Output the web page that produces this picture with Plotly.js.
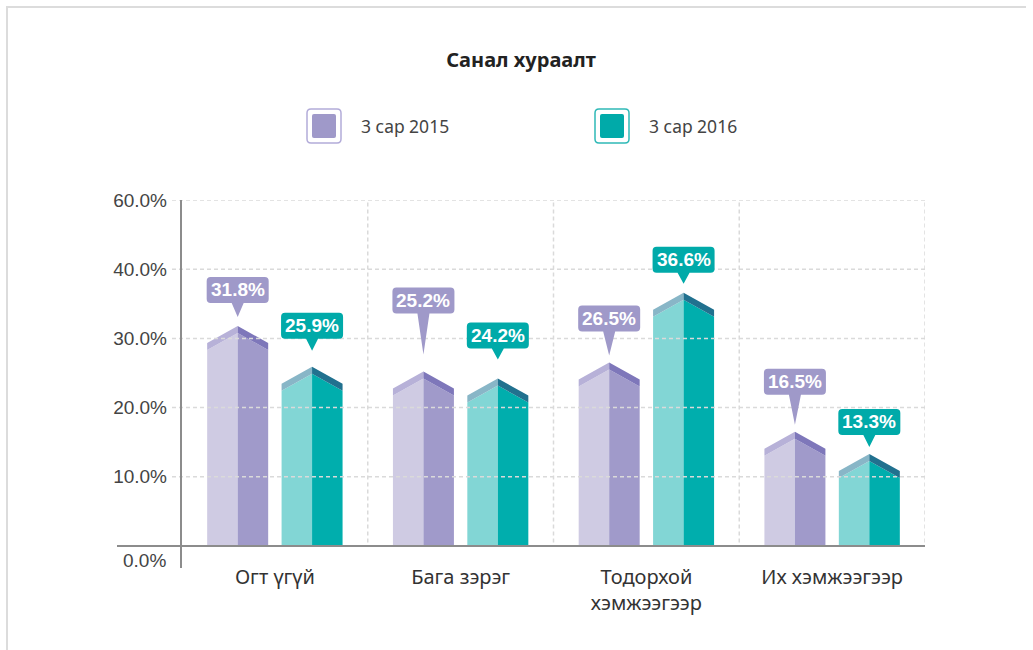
<!DOCTYPE html>
<html><head><meta charset="utf-8">
<script src="https://cdn.plot.ly/plotly-3.0.1.min.js"></script>
<style>html,body{margin:0;padding:0;background:#fff;} #chart{width:1033px;height:650px;}</style>
</head><body><div id="chart"></div>
<script>
// ---- data ----
const categories = ['Огт үгүй', 'Бага зэрэг', 'Тодорхой<br>хэмжээгээр', 'Их хэмжээгээр'];
const seriesNames = ['3 сар 2015', '3 сар 2016'];
const values2015 = [31.8, 25.2, 26.5, 16.5];
const values2016 = [25.9, 24.2, 36.6, 13.3];
const yTickVals = [10, 20, 30, 40, 50];
const yTickText = ['10.0%', '20.0%', '30.0%', '40.0%', '60.0%'];
const zeroTickText = '0.0%';
const chartTitle = 'Санал хураалт';

// ---- layout config (pixels) ----
const W = 1033, H = 650;
const M = {l: 182, r: 108, t: 200, b: 104};
const plotW = W - M.l - M.r, plotH = H - M.t - M.b;
const Y_MAX = 50;
const pxPerX = plotW / 4, pxPerY = plotH / Y_MAX;
const halfW = 30.5 / pxPerX;       // half bar width in x units
const offs = [-37.2 / pxPerX, 37.2 / pxPerX];
const roofDrop = 17 / pxPerY, band = 7 / pxPerY;
const calloutLift = [[36, 71, 44, 50], [41, 43, 33, 32]];
const calloutGap = [[9, 17, 7, 7], [16, 19, 9, 7]];
const styles = [
  {light: '#cfcbe3', dark: '#a09aca', roofL: '#b7b1d8', roofR: '#7e77ba', callout: '#9f99c9', ring: '#b3acd9'},
  {light: '#82d6d5', dark: '#00aead', roofL: '#88b6c7', roofR: '#21718f', callout: '#00aaa9', ring: '#2fb9b7'}
];
const px2pX = px => (px - M.l) / plotW;
const px2pY = py => (H - M.b - py) / plotH;

const seriesVals = [values2015, values2016];
const traces = [];
seriesVals.forEach((vals, s) => {
  const faces = {light: [[], []], dark: [[], []], roofL: [[], []], roofR: [[], []]};
  vals.forEach((v, i) => {
    const c = i + offs[s], l = c - halfW, r = c + halfW;
    const sh = v - roofDrop - band, top = v - band;
    const add = (f, xs, ys) => { faces[f][0].push(...xs, null); faces[f][1].push(...ys, null); };
    add('light', [l, l, c, c, l], [0, sh, top, 0, 0]);
    add('dark', [c, c, r, r, c], [0, top, sh, 0, 0]);
    add('roofL', [l, l, c, c, l], [sh, v - roofDrop, v, top, sh]);
    add('roofR', [c, c, r, r, c], [top, v, v - roofDrop, sh, top]);
  });
  ['light', 'dark', 'roofL', 'roofR'].forEach(f => {
    traces.push({
      type: 'scatter', mode: 'lines', x: faces[f][0], y: faces[f][1],
      fill: 'toself', fillcolor: styles[s][f], line: {width: 0, color: styles[s][f]},
      hoverinfo: 'skip', showlegend: false, name: seriesNames[s], cliponaxis: false
    });
  });
});

const shapes = [];
const annotations = [];
const grid = {color: '#dadada', width: 1.5, dash: '4px,3px'};
// frame
shapes.push({type: 'line', xref: 'paper', yref: 'paper', x0: px2pX(6), x1: px2pX(1026), y0: px2pY(7), y1: px2pY(7), line: {color: '#dcdcdc', width: 2}, layer: 'below'});
shapes.push({type: 'line', xref: 'paper', yref: 'paper', x0: px2pX(7), x1: px2pX(7), y0: px2pY(6), y1: px2pY(655), line: {color: '#dcdcdc', width: 2}, layer: 'below'});
// horizontal grid (above bars)
yTickVals.forEach(v => shapes.push({type: 'line', xref: 'paper', yref: 'y', x0: px2pX(172), x1: 1, y0: v, y1: v, line: grid, layer: 'above'}));
// vertical separators
[0.5, 1.5, 2.5, 3.5].forEach(x => shapes.push({type: 'line', xref: 'x', yref: 'y', x0: x, x1: x, y0: -1.5, y1: Y_MAX, line: grid, layer: 'above'}));
// axis lines
shapes.push({type: 'line', xref: 'paper', yref: 'paper', x0: px2pX(117), x1: 1, y0: 0, y1: 0, line: {color: '#8c8c8c', width: 2}, layer: 'above'});
shapes.push({type: 'line', xref: 'paper', yref: 'paper', x0: px2pX(181), x1: px2pX(181), y0: px2pY(568), y1: 1, line: {color: '#8c8c8c', width: 2}, layer: 'above'});

// callouts
const rr = (x0, x1, yb, yt, r) =>
  `M${x0 + r},${yt} L${x1 - r},${yt} Q${x1},${yt} ${x1},${yt - r} L${x1},${yb + r} Q${x1},${yb} ${x1 - r},${yb}`;
seriesVals.forEach((vals, s) => {
  vals.forEach((v, i) => {
    const c = i + offs[s];
    const L = calloutLift[s][i], g = calloutGap[s][i];
    const hw = 31, hh = 13, r = 4, yt = L + hh, yb = L - hh;
    const path = rr(-hw, hw, yb, yt, r) +
      ` L6,${yb} L0,${g} L-6,${yb} L${-hw + r},${yb} Q${-hw},${yb} ${-hw},${yb + r} L${-hw},${yt - r} Q${-hw},${yt} ${-hw + r},${yt} Z`;
    shapes.push({type: 'path', xref: 'x', yref: 'y', xsizemode: 'pixel', ysizemode: 'pixel',
      xanchor: c, yanchor: v, path: path, fillcolor: styles[s].callout, line: {width: 0}, layer: 'above'});
    annotations.push({x: c, y: v, xref: 'x', yref: 'y', yshift: L, showarrow: false,
      text: '<b>' + v.toFixed(1) + '%</b>', font: {family: 'Liberation Sans, Arial, sans-serif', size: 19, color: '#ffffff'},
      xanchor: 'center', yanchor: 'middle'});
  });
});

// legend
const legendX = [324, 612];
seriesNames.forEach((name, s) => {
  const cx = legendX[s], cy = 126;
  const o = 17, inr = 12;
  const rect = (h, r) => `M${-h + r},${h} L${h - r},${h} Q${h},${h} ${h},${h - r} L${h},${-h + r} Q${h},${-h} ${h - r},${-h} L${-h + r},${-h} Q${-h},${-h} ${-h},${-h + r} L${-h},${h - r} Q${-h},${h} ${-h + r},${h} Z`;
  shapes.push({type: 'path', xref: 'paper', yref: 'paper', xsizemode: 'pixel', ysizemode: 'pixel',
    xanchor: px2pX(cx), yanchor: px2pY(cy), path: rect(o, 4), fillcolor: '#ffffff', line: {color: styles[s].ring, width: 1.5}, layer: 'above'});
  shapes.push({type: 'path', xref: 'paper', yref: 'paper', xsizemode: 'pixel', ysizemode: 'pixel',
    xanchor: px2pX(cx), yanchor: px2pY(cy), path: rect(inr, 2), fillcolor: styles[s].callout, line: {width: 0}, layer: 'above'});
  annotations.push({xref: 'paper', yref: 'paper', x: px2pX(cx + 35), y: px2pY(cy), xanchor: 'left', yanchor: 'middle',
    text: name, showarrow: false, font: {family: 'Noto Sans', size: 17.5, color: '#444'}});
});
// zero tick label
annotations.push({xref: 'paper', yref: 'paper', x: px2pX(168), y: px2pY(560), xanchor: 'right', yanchor: 'middle',
  text: zeroTickText, showarrow: false, font: {family: 'Liberation Sans, Arial, sans-serif', size: 19, color: '#444'}});

const layout = {
  width: W, height: H, margin: M, paper_bgcolor: '#fff', plot_bgcolor: '#fff',
  title: {text: '<b>' + chartTitle + '</b>', font: {family: 'Noto Sans', size: 20, color: '#222'},
    x: 521 / W, xanchor: 'center', xref: 'container', y: 1 - 60 / H, yanchor: 'middle', yref: 'container'},
  xaxis: {range: [-0.5, 3.5], tickvals: [0, 1, 2, 3], ticktext: categories, showgrid: false, zeroline: false,
    showline: false, ticks: '', ticklabelstandoff: 17, tickfont: {family: 'Noto Sans', size: 20, color: '#333'}, fixedrange: true},
  yaxis: {range: [0, Y_MAX], tickvals: yTickVals, ticktext: yTickText, showgrid: false, zeroline: false,
    showline: false, ticks: '', ticklabelstandoff: 14, tickfont: {family: 'Liberation Sans, Arial, sans-serif', size: 19, color: '#444'}, fixedrange: true},
  showlegend: false, shapes: shapes, annotations: annotations, hovermode: false
};
Plotly.newPlot('chart', traces, layout, {displayModeBar: false, staticPlot: true});
</script></body></html>
